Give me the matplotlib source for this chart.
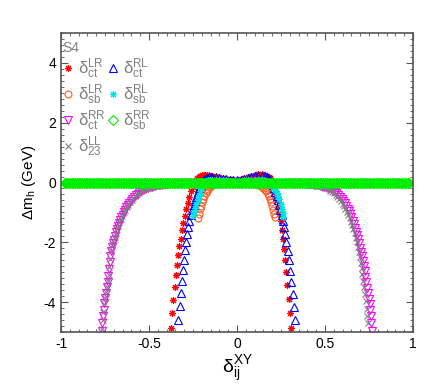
import matplotlib
matplotlib.use("Agg")
import matplotlib.pyplot as plt
from matplotlib.ticker import MultipleLocator
import numpy as np

plt.rcParams['font.family'] = ['Liberation Sans', 'DejaVu Sans']
plt.rcParams['mathtext.fontset'] = 'custom'
plt.rcParams['mathtext.rm'] = 'Liberation Sans'
plt.rcParams['mathtext.it'] = 'Liberation Sans:italic'
plt.rcParams['mathtext.default'] = 'regular'
plt.rcParams['axes.unicode_minus'] = False

# delta_ct^LR (red)
d_ctLR = [-0.377, -0.368, -0.361, -0.353, -0.346, -0.339, -0.333, -0.327, -0.320, -0.313,
          -0.305, -0.297, -0.288, -0.279, -0.270, -0.261, -0.252, -0.243, -0.235, -0.226,
          -0.217, -0.208, -0.199, -0.190, -0.180, -0.170, -0.160, -0.150, -0.140, -0.120,
          -0.100, -0.080, -0.060, -0.040, -0.020, 0.000, 0.020, 0.040, 0.060, 0.080,
          0.100, 0.120, 0.140, 0.160, 0.170, 0.180, 0.188, 0.196, 0.204, 0.211,
          0.218, 0.224, 0.230, 0.236, 0.242, 0.248, 0.254, 0.260, 0.266, 0.272,
          0.279, 0.286, 0.293, 0.300, 0.307]
dm_ctLR = [-4.87, -4.37, -3.92, -3.48, -3.10, -2.77, -2.43, -2.14, -1.88, -1.60,
           -1.34, -1.12, -0.90, -0.68, -0.47, -0.30, -0.14, -0.02, 0.07, 0.14,
           0.19, 0.22, 0.24, 0.25, 0.25, 0.25, 0.24, 0.23, 0.22, 0.20,
           0.18, 0.15, 0.13, 0.11, 0.10, 0.10, 0.12, 0.15, 0.19, 0.23,
           0.25, 0.27, 0.27, 0.24, 0.23, 0.20, 0.15, 0.09, 0.01, -0.10,
           -0.24, -0.40, -0.59, -0.80, -1.04, -1.30, -1.58, -1.90, -2.24, -2.60,
           -3.00, -3.43, -3.90, -4.38, -4.87]

# delta_sb^LR (orange)
d_sbLR = [-0.222, -0.216, -0.210, -0.204, -0.198, -0.192, -0.185, -0.178, -0.171, -0.164,
          -0.156, -0.148, -0.140, -0.130, -0.120, -0.100, -0.080, -0.060, -0.040, -0.020,
          0.000, 0.020, 0.040, 0.060, 0.080, 0.100, 0.110, 0.120, 0.130, 0.140,
          0.150, 0.160, 0.167, 0.174, 0.181, 0.187, 0.193, 0.199, 0.205, 0.210, 0.215]
dm_sbLR = [-1.20, -1.05, -0.90, -0.77, -0.65, -0.54, -0.44, -0.35, -0.28, -0.22,
           -0.16, -0.11, -0.07, -0.04, -0.02, 0.00, 0.01, 0.02, 0.02, 0.01,
           0.01, 0.01, 0.02, 0.02, 0.00, -0.02, -0.04, -0.07, -0.10, -0.14,
           -0.19, -0.25, -0.30, -0.37, -0.45, -0.55, -0.66, -0.78, -0.91, -1.04, -1.17]

# delta_ct^RR (magenta)
d_ctRR = [-0.768, -0.765, -0.762, -0.758, -0.754, -0.749, -0.744, -0.740, -0.735, -0.731,
          -0.727, -0.723, -0.719, -0.715, -0.710, -0.705, -0.700, -0.694, -0.688, -0.682,
          -0.676, -0.670, -0.664, -0.657, -0.650, -0.643, -0.636, -0.628, -0.620, -0.612,
          -0.603, -0.594, -0.585, -0.575, -0.565, -0.555, -0.545, -0.535, -0.525, -0.515,
          -0.505, -0.495, -0.485, -0.475, -0.465, -0.455, -0.445, -0.435, -0.425, -0.415,
          -0.405, -0.390, -0.370, -0.350, -0.330, -0.310, -0.290, -0.270, -0.250,
          0.250, 0.270, 0.290, 0.310, 0.330, 0.350, 0.370, 0.390, 0.405, 0.415,
          0.425, 0.435, 0.445, 0.455, 0.465, 0.475, 0.485, 0.495, 0.505, 0.515,
          0.525, 0.535, 0.545, 0.555, 0.565, 0.575, 0.585, 0.594, 0.603, 0.612,
          0.620, 0.628, 0.636, 0.643, 0.650, 0.657, 0.664, 0.670, 0.676, 0.682,
          0.688, 0.694, 0.700, 0.705, 0.710, 0.715, 0.720, 0.725, 0.730, 0.735,
          0.740, 0.745, 0.749, 0.753, 0.757, 0.761, 0.764, 0.767]
dm_ctRR = [-4.96, -4.70, -4.46, -4.25, -4.04, -3.85, -3.68, -3.50, -3.34, -3.14,
           -2.90, -2.65, -2.47, -2.30, -2.15, -2.02, -1.91, -1.79, -1.67, -1.56,
           -1.45, -1.36, -1.27, -1.17, -1.08, -0.99, -0.91, -0.83, -0.75, -0.68,
           -0.61, -0.54, -0.48, -0.42, -0.37, -0.33, -0.29, -0.26, -0.23, -0.20,
           -0.18, -0.16, -0.14, -0.13, -0.11, -0.10, -0.09, -0.08, -0.07, -0.06,
           -0.05, -0.04, -0.03, -0.02, -0.02, -0.01, -0.01, -0.01, 0.00,
           0.00, -0.01, -0.01, -0.01, -0.02, -0.02, -0.03, -0.04, -0.05, -0.05,
           -0.06, -0.07, -0.08, -0.09, -0.10, -0.11, -0.12, -0.14, -0.15, -0.17,
           -0.20, -0.23, -0.27, -0.31, -0.36, -0.41, -0.48, -0.55, -0.62, -0.70,
           -0.78, -0.87, -0.96, -1.06, -1.17, -1.28, -1.40, -1.52, -1.64, -1.77,
           -1.90, -2.04, -2.18, -2.32, -2.47, -2.63, -2.80, -2.97, -3.15, -3.34,
           -3.52, -3.70, -3.88, -4.07, -4.26, -4.46, -4.70, -4.96]

# delta_23^LL (gray)
d_23LL = [-0.766, -0.763, -0.759, -0.755, -0.750, -0.745, -0.740, -0.735, -0.730, -0.725,
          -0.720, -0.714, -0.708, -0.702, -0.696, -0.689, -0.682, -0.675, -0.668, -0.660,
          -0.652, -0.644, -0.636, -0.627, -0.618, -0.609, -0.599, -0.589, -0.578, -0.567,
          -0.556, -0.545, -0.534, -0.523, -0.512, -0.500, -0.490, -0.480, -0.470, -0.460,
          -0.450, -0.440, -0.430, -0.420, -0.410, -0.400, -0.380, -0.360, -0.340, -0.320,
          -0.300, -0.280, -0.260,
          0.260, 0.280, 0.300, 0.320, 0.340, 0.360, 0.380, 0.400, 0.410, 0.420,
          0.430, 0.440, 0.450, 0.460, 0.470, 0.480, 0.490, 0.500, 0.510, 0.520,
          0.530, 0.540, 0.550, 0.560, 0.570, 0.580, 0.590, 0.600, 0.608, 0.616,
          0.624, 0.632, 0.640, 0.647, 0.654, 0.661, 0.668, 0.674, 0.680, 0.686,
          0.692, 0.698, 0.703, 0.708, 0.713, 0.718, 0.723, 0.728, 0.733, 0.737,
          0.741, 0.745]
dm_23LL = [-4.90, -4.60, -4.32, -4.08, -3.86, -3.66, -3.48, -3.30, -3.10, -2.82,
           -2.55, -2.30, -2.10, -1.95, -1.82, -1.69, -1.56, -1.44, -1.33, -1.22,
           -1.11, -1.00, -0.91, -0.82, -0.74, -0.66, -0.59, -0.52, -0.46, -0.40,
           -0.35, -0.30, -0.26, -0.23, -0.20, -0.17, -0.15, -0.13, -0.12, -0.11,
           -0.10, -0.09, -0.08, -0.07, -0.06, -0.05, -0.04, -0.03, -0.02, -0.02,
           -0.01, -0.01, 0.00,
           0.00, -0.01, -0.01, -0.02, -0.02, -0.03, -0.04, -0.05, -0.05, -0.06,
           -0.07, -0.08, -0.09, -0.10, -0.11, -0.13, -0.15, -0.17, -0.20, -0.23,
           -0.27, -0.31, -0.36, -0.41, -0.47, -0.54, -0.62, -0.71, -0.79, -0.88,
           -0.98, -1.08, -1.19, -1.31, -1.43, -1.56, -1.70, -1.84, -1.99, -2.15,
           -2.32, -2.50, -2.68, -2.87, -3.07, -3.28, -3.50, -3.73, -3.97, -4.22,
           -4.46, -4.70]

# delta_ct^RL (blue)
d_ctRL = [-0.333, -0.326, -0.319, -0.313, -0.308, -0.302, -0.296, -0.290, -0.284, -0.277,
          -0.270, -0.263, -0.255, -0.247, -0.239, -0.231, -0.223, -0.215, -0.207, -0.199,
          -0.190, -0.180, -0.170, -0.160, -0.150, -0.140, -0.120, -0.100, -0.080, -0.060,
          -0.040, -0.020, 0.000, 0.020, 0.040, 0.060, 0.080, 0.100, 0.120, 0.140,
          0.158, 0.168, 0.178, 0.187, 0.196, 0.204, 0.211, 0.218, 0.225, 0.232,
          0.239, 0.246, 0.253, 0.260, 0.267, 0.274, 0.281, 0.288, 0.295, 0.302,
          0.309, 0.316, 0.323, 0.331]
dm_ctRL = [-4.59, -4.14, -3.70, -3.29, -2.92, -2.58, -2.27, -1.99, -1.73, -1.49,
           -1.28, -1.09, -0.92, -0.76, -0.61, -0.47, -0.33, -0.20, -0.09, 0.00,
           0.07, 0.12, 0.15, 0.17, 0.18, 0.18, 0.17, 0.15, 0.13, 0.11,
           0.10, 0.09, 0.09, 0.10, 0.12, 0.15, 0.18, 0.21, 0.22, 0.22,
           0.21, 0.19, 0.15, 0.10, 0.03, -0.07, -0.18, -0.31, -0.45, -0.60,
           -0.76, -0.92, -1.10, -1.29, -1.50, -1.73, -1.99, -2.28, -2.60, -2.95,
           -3.32, -3.72, -4.15, -4.60]

# delta_sb^RL (cyan)
d_sbRL = [-0.252, -0.245, -0.238, -0.231, -0.224, -0.217, -0.210, -0.203, -0.196, -0.189,
          -0.182, -0.174, -0.165, -0.155, -0.140, -0.120, -0.100, -0.080, -0.060, -0.040,
          -0.020, 0.000, 0.020, 0.040, 0.060, 0.080, 0.100, 0.120, 0.140, 0.155,
          0.170, 0.178, 0.186, 0.194, 0.202, 0.210, 0.218, 0.226, 0.234, 0.241,
          0.248, 0.254, 0.259, 0.263]
dm_sbRL = [-1.12, -0.97, -0.84, -0.72, -0.59, -0.46, -0.34, -0.23, -0.13, -0.05,
           0.01, 0.05, 0.07, 0.09, 0.10, 0.10, 0.09, 0.08, 0.07, 0.06,
           0.05, 0.05, 0.06, 0.07, 0.08, 0.09, 0.10, 0.10, 0.09, 0.07,
           0.04, 0.00, -0.04, -0.09, -0.14, -0.20, -0.26, -0.34, -0.44, -0.56,
           -0.71, -0.87, -1.03, -1.15]

# delta_sb^RR (green), flat at zero over the whole scan
d_sbRR = np.linspace(-0.98, 0.98, 197)
dm_sbRR = [0.0] * len(d_sbRR)

fig = plt.figure(figsize=(4.36, 3.87), dpi=100)
ax = fig.add_axes([61/436, 1 - 332/387, 352/436, 299/387])

ms = 5
mew = 0.8
h1, = ax.plot(d_ctLR, dm_ctLR, ls='none', marker=(8, 2, 0), ms=ms, mew=mew, color='#ff0000',
              label=r'$\delta^{LR}_{ct}$')
h2, = ax.plot(d_sbLR, dm_sbLR, ls='none', marker='o', ms=ms, mew=mew, mfc='none', color='#ff5a22',
              label=r'$\delta^{LR}_{sb}$')
h3, = ax.plot(d_ctRR, dm_ctRR, ls='none', marker='v', ms=ms + 0.5, mew=mew, mfc='none', color='#ff00ff',
              label=r'$\delta^{RR}_{ct}$')
h4, = ax.plot(d_23LL, dm_23LL, ls='none', marker='x', ms=ms, mew=mew, color='#808080',
              label=r'$\delta^{LL}_{23}$')
h5, = ax.plot(d_ctRL, dm_ctRL, ls='none', marker='^', ms=ms + 0.5, mew=mew, mfc='none', color='#0000ff',
              label=r'$\delta^{RL}_{ct}$')
h6, = ax.plot(d_sbRL, dm_sbRL, ls='none', marker=(8, 2, 0), ms=ms, mew=mew, color='#00e5e5',
              label=r'$\delta^{RL}_{sb}$')
h7, = ax.plot(d_sbRR, dm_sbRR, ls='none', marker='D', ms=5.5, mew=mew, mfc='#00ee00', color='#00ee00',
              label=r'$\delta^{RR}_{sb}$')

ax.set_xlim(-1, 1)
ax.set_ylim(-5, 5)
ax.set_xticks([-1, -0.5, 0, 0.5, 1])
ax.set_xticklabels(['-1', '-0.5', '0', '0.5', '1'])
ax.set_yticks([-4, -2, 0, 2, 4])
ax.xaxis.set_minor_locator(MultipleLocator(0.05))
ax.yaxis.set_minor_locator(MultipleLocator(0.2))
ax.tick_params(which='both', direction='in', top=True, right=True, color='#555555', labelsize=10)
ax.tick_params(which='major', length=5)
ax.tick_params(which='minor', length=2.5)
for s in ax.spines.values():
    s.set_color('#555555')
    s.set_linewidth(1.2)

ax.set_xlabel(r'$\delta^{XY}_{ij}$', fontsize=14, labelpad=2)
ax.set_ylabel(r'$\Delta m_h$ (GeV)', fontsize=11, labelpad=4)

# legend: open markers shown hollow even for the green band
leg = ax.legend(handles=[h1, h2, h3, h4, h5, h6, h7], ncol=2, loc='upper left',
                bbox_to_anchor=(-0.01, 0.99), frameon=False, title='S4', alignment='left',
                fontsize=12, title_fontsize=10, labelcolor='#808080', numpoints=1,
                handlelength=0.7, handletextpad=0.25, columnspacing=0.05,
                labelspacing=0.1, borderaxespad=0.1, borderpad=0.2)
leg.get_title().set_color('#808080')
leg.legend_handles[6].set_markerfacecolor('none')

fig.savefig('out.png', dpi=100)
